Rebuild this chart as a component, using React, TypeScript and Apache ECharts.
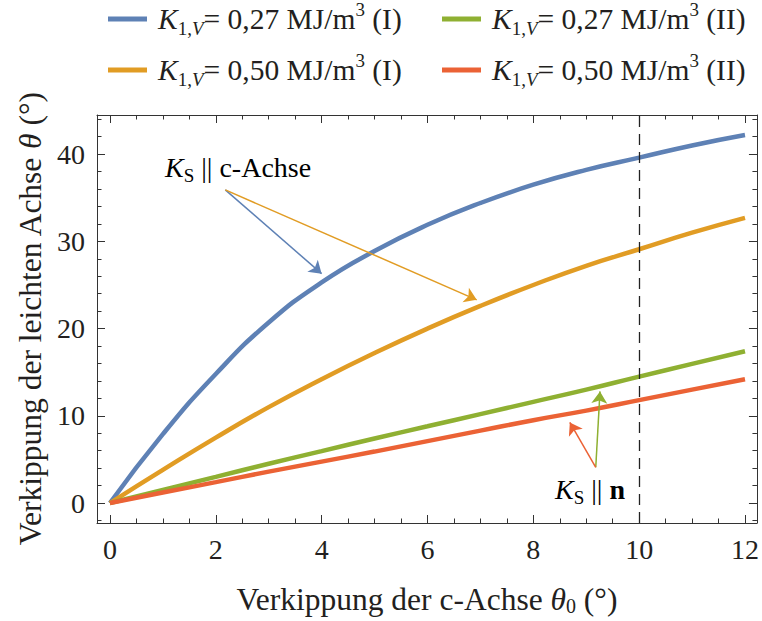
import React, { useEffect, useRef } from "react";
import * as echarts from "echarts";

const theta0 = [0, 1, 2, 3, 4, 5, 6, 7, 8, 9, 10, 11, 12];
const blueI = [0, 7.9, 14.8, 20.7, 25.3, 28.9, 31.9, 34.4, 36.5, 38.2, 39.6, 41.0, 42.2];
const orangeI = [0, 3.8, 7.5, 11.0, 14.2, 17.2, 20.0, 22.6, 25.0, 27.2, 29.1, 31.0, 32.7];
const greenII = [0, 1.5, 3.0, 4.5, 5.95, 7.4, 8.8, 10.2, 11.6, 13.0, 14.5, 15.95, 17.4];
const redII = [0, 1.2, 2.4, 3.6, 4.75, 5.9, 7.1, 8.3, 9.5, 10.6, 11.8, 13.0, 14.2];

const xMajor = [0, 2, 4, 6, 8, 10, 12];
const xMinor = [0, 0.5, 1, 1.5, 2, 2.5, 3, 3.5, 4, 4.5, 5, 5.5, 6, 6.5, 7, 7.5, 8, 8.5, 9, 9.5, 10, 10.5, 11, 11.5, 12];
const yMajor = [0, 10, 20, 30, 40];
const yMinor = [-2, 0, 2, 4, 6, 8, 10, 12, 14, 16, 18, 20, 22, 24, 26, 28, 30, 32, 34, 36, 38, 40, 42, 44];
const dashedX = 10;

const arrowCStart = [2.18, 35.9];
const arrowBlueEnd = [4.0, 26.3];
const arrowOrangeEnd = [6.93, 23.3];
const arrowNStart = [9.18, 4.1];
const arrowGreenEnd = [9.26, 12.8];
const arrowRedEnd = [8.69, 9.24];

const names = [
  "K1,V = 0,27 MJ/m3 (I)",
  "K1,V = 0,50 MJ/m3 (I)",
  "K1,V = 0,27 MJ/m3 (II)",
  "K1,V = 0,50 MJ/m3 (II)",
];
const legendRich = [
  "{k|K}{sub|1,}{subi|V}{t|= 0,27 MJ/m}{sup|3}{t| (I)}",
  "{k|K}{sub|1,}{subi|V}{t|= 0,50 MJ/m}{sup|3}{t| (I)}",
  "{k|K}{sub|1,}{subi|V}{t|= 0,27 MJ/m}{sup|3}{t| (II)}",
  "{k|K}{sub|1,}{subi|V}{t|= 0,50 MJ/m}{sup|3}{t| (II)}",
];
const colors = ["#5E81B5", "#E19C24", "#8FB032", "#EB6235"];

const FONT = "Liberation Serif";
const TXT = "#231f20";

export default function App() {
  const ref = useRef<HTMLDivElement>(null);
  useEffect(() => {
    if (!ref.current) return;
    const chart = echarts.init(ref.current, undefined, { renderer: "svg" });
    const xMin = -0.2445, xMax = 12.2257, yMin = -2.288, yMax = 44.49;
    const richBase = {
      t: { fontFamily: FONT, fontSize: 29.5, color: TXT, lineHeight: 38 },
      k: { fontFamily: FONT, fontSize: 29.5, color: TXT, fontStyle: "italic", lineHeight: 38, padding: [0, 0, 0, 6] },
      sub: { fontFamily: FONT, fontSize: 19, color: TXT, lineHeight: 19, verticalAlign: "bottom" },
      subi: { fontFamily: FONT, fontSize: 19, color: TXT, fontStyle: "italic", lineHeight: 19, verticalAlign: "bottom" },
      sup: { fontFamily: FONT, fontSize: 19, color: TXT, lineHeight: 30, verticalAlign: "top" },
    };
    const legendPos = [
      { left: 108, top: 0 },
      { left: 108, top: 51 },
      { left: 442, top: 0 },
      { left: 442, top: 51 },
    ];
    const legends = names.map((n, i) => ({
      data: [n],
      left: legendPos[i].left,
      top: legendPos[i].top,
      icon: "rect",
      itemWidth: 39,
      itemHeight: 5,
      padding: 0,
      selectedMode: false,
      formatter: () => legendRich[i],
      textStyle: { fontFamily: FONT, rich: richBase },
    }));
    const tickLine = { color: "#333", width: 1 };
    const baseX = { type: "value", min: xMin, max: xMax, splitLine: { show: false } };
    const baseY = { type: "value", min: yMin, max: yMax, splitLine: { show: false } };
    const labelStyle = { fontFamily: FONT, fontSize: 28, color: TXT };
    const nameRich = {
      t: { fontFamily: FONT, fontSize: 31.5, color: TXT, lineHeight: 34 },
      i: { fontFamily: FONT, fontSize: 31.5, color: TXT, fontStyle: "italic", lineHeight: 34 },
      sub: { fontFamily: FONT, fontSize: 20, color: TXT, lineHeight: 20, verticalAlign: "bottom" },
    };
    const xAxis = [
      {
        ...baseX, position: "bottom",
        axisLine: { show: true, onZero: false, lineStyle: tickLine },
        axisTick: { show: true, inside: true, length: 8, customValues: xMajor, lineStyle: tickLine },
        axisLabel: { show: true, customValues: xMajor, margin: 12, ...labelStyle },
        name: "{t|Verkippung der c-Achse }{i|θ}{sub|0}{t| (°)}",
        nameLocation: "middle",
        nameGap: 59,
        nameTextStyle: { fontFamily: FONT, rich: nameRich },
      },
      {
        ...baseX, position: "bottom",
        axisLine: { show: false, onZero: false },
        axisTick: { show: true, inside: true, length: 4.5, customValues: xMinor, lineStyle: tickLine },
        axisLabel: { show: false },
      },
      {
        ...baseX, position: "top",
        axisLine: { show: true, onZero: false, lineStyle: tickLine },
        axisTick: { show: true, inside: true, length: 8, customValues: xMajor, lineStyle: tickLine },
        axisLabel: { show: false },
      },
      {
        ...baseX, position: "top",
        axisLine: { show: false, onZero: false },
        axisTick: { show: true, inside: true, length: 4.5, customValues: xMinor, lineStyle: tickLine },
        axisLabel: { show: false },
      },
    ];
    const yAxis = [
      {
        ...baseY, position: "left",
        axisLine: { show: true, onZero: false, lineStyle: tickLine },
        axisTick: { show: true, inside: true, length: 8, customValues: yMajor, lineStyle: tickLine },
        axisLabel: { show: true, customValues: yMajor, margin: 12, ...labelStyle },
        name: "{t|Verkippung der leichten Achse }{i|θ}{t| (°)}",
        nameLocation: "middle",
        nameGap: 47,
        nameRotate: 90,
        nameTextStyle: { fontFamily: FONT, rich: nameRich },
      },
      {
        ...baseY, position: "left",
        axisLine: { show: false, onZero: false },
        axisTick: { show: true, inside: true, length: 4.5, customValues: yMinor, lineStyle: tickLine },
        axisLabel: { show: false },
      },
      {
        ...baseY, position: "right",
        axisLine: { show: true, onZero: false, lineStyle: tickLine },
        axisTick: { show: true, inside: true, length: 8, customValues: yMajor, lineStyle: tickLine },
        axisLabel: { show: false },
      },
      {
        ...baseY, position: "right",
        axisLine: { show: false, onZero: false },
        axisTick: { show: true, inside: true, length: 4.5, customValues: yMinor, lineStyle: tickLine },
        axisLabel: { show: false },
      },
    ];
    const arrow = (s: number[], e: number[], color: string) => ({
      silent: true,
      animation: false,
      label: { show: false },
      lineStyle: { color, width: 1.5, type: "solid" },
      data: [[
        { coord: s, symbol: "none" },
        { coord: e, symbol: "arrow", symbolSize: 12 },
      ]],
    });
    const mk = (i: number, vals: number[], markLine?: any) => ({
      name: names[i],
      type: "line",
      data: theta0.map((x, j) => [x, vals[j]]),
      smooth: true,
      showSymbol: false,
      symbol: "none",
      lineStyle: { color: colors[i], width: 4.5 },
      itemStyle: { color: colors[i] },
      z: 3,
      markLine,
    });
    const series: any[] = [
      mk(0, blueI, arrow(arrowCStart, arrowBlueEnd, colors[0])),
      mk(1, orangeI, arrow(arrowCStart, arrowOrangeEnd, colors[1])),
      mk(2, greenII, arrow(arrowNStart, arrowGreenEnd, colors[2])),
      mk(3, redII, arrow(arrowNStart, arrowRedEnd, colors[3])),
      {
        name: "dashed",
        type: "line",
        data: [],
        markLine: {
          silent: true,
          symbol: "none",
          label: { show: false },
          lineStyle: { color: "#222", width: 1.3, type: [11, 7] },
          data: [{ xAxis: dashedX }],
        },
      },
    ];
    const annRich = {
      k: { fontFamily: FONT, fontSize: 28, color: TXT, fontStyle: "italic", lineHeight: 36 },
      s: { fontFamily: FONT, fontSize: 19, color: TXT, lineHeight: 19, verticalAlign: "bottom" },
      t: { fontFamily: FONT, fontSize: 28, color: TXT, lineHeight: 36 },
      b: { fontFamily: FONT, fontSize: 28, color: TXT, fontWeight: "bold", lineHeight: 36 },
    };
    chart.setOption({
      animation: false,
      backgroundColor: "#ffffff",
      textStyle: { fontFamily: FONT },
      legend: legends,
      grid: { left: 97, right: 2, top: 115, bottom: 97, containLabel: false },
      xAxis,
      yAxis,
      series,
      graphic: [
        {
          type: "text",
          x: 165,
          y: 167,
          style: {
            text: "{k|K}{s|S}{t| || c-Achse}",
            rich: annRich,
            verticalAlign: "middle",
            align: "left",
          },
        },
        {
          type: "text",
          x: 555,
          y: 489,
          style: {
            text: "{k|K}{s|S}{t| || }{b|n}",
            rich: annRich,
            verticalAlign: "middle",
            align: "left",
          },
        },
      ],
    });
    return () => chart.dispose();
  }, []);
  return (
    <div
      ref={ref}
      style={{ position: "fixed", left: 0, top: 0, width: 762, height: 621, background: "#fff" }}
    />
  );
}
